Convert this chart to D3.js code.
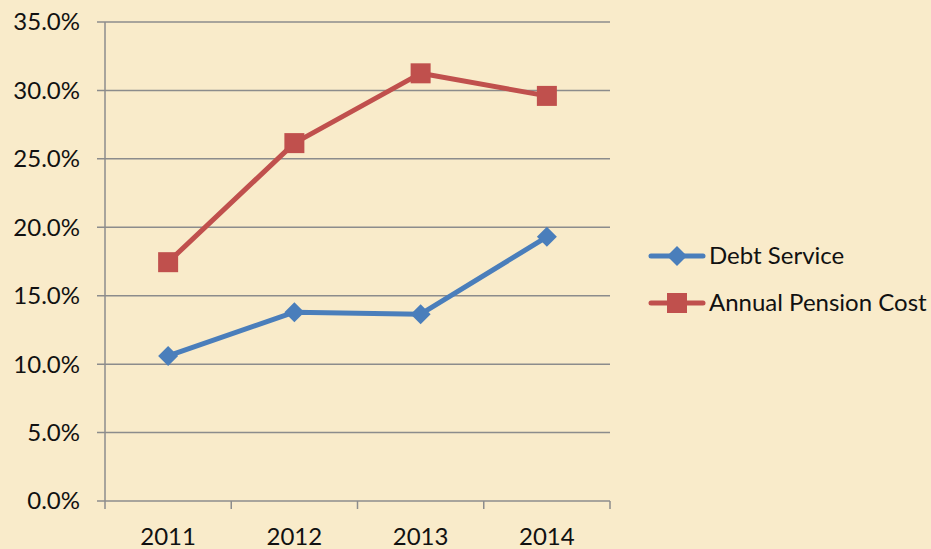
<!DOCTYPE html>
<html>
<head>
<meta charset="utf-8">
<script src="https://cdn.jsdelivr.net/npm/d3@7"></script>
<style>
  html, body { margin: 0; padding: 0; background: #f9ebca; }
  svg text { font-family: Lato, "Open Sans", sans-serif; fill: #111; }
</style>
</head>
<body>
<div id="chart"></div>
<script>
// chart values
const YEARS = ["2011", "2012", "2013", "2014"];
const DEBT_SERVICE = [10.6, 13.8, 13.65, 19.3];
const PENSION_COST = [17.45, 26.15, 31.25, 29.6];
const Y_TICKS = [0, 5, 10, 15, 20, 25, 30, 35];

const SERIES = [
  { name: "Debt Service", values: DEBT_SERVICE, color: "#4a7ebb", marker: "diamond" },
  { name: "Annual Pension Cost", values: PENSION_COST, color: "#c0504d", marker: "square" }
];

const width = 931, height = 549;
const margin = { left: 105, right: 321, top: 22, bottom: 48 };
const fontSize = 24;

const svg = d3.select("#chart").append("svg")
  .attr("width", width)
  .attr("height", height);

svg.append("rect")
  .attr("width", width).attr("height", height)
  .attr("fill", "#f9ebca");

const x = d3.scaleBand()
  .domain(YEARS)
  .range([margin.left, width - margin.right]);

const y = d3.scaleLinear()
  .domain([0, 35])
  .range([height - margin.bottom, margin.top]);

const gridColor = "#8c8c8c";

// ---- gridlines + y labels ----
const yAxis = svg.append("g");
yAxis.selectAll("line.grid")
  .data(Y_TICKS)
  .enter().append("line")
  .attr("x1", margin.left - 8)
  .attr("x2", width - margin.right)
  .attr("y1", d => y(d)).attr("y2", d => y(d))
  .attr("stroke", gridColor)
  .attr("stroke-width", 1.5);

yAxis.selectAll("text")
  .data(Y_TICKS)
  .enter().append("text")
  .attr("x", margin.left - 25)
  .attr("y", d => y(d))
  .attr("dy", "0.35em")
  .attr("text-anchor", "end")
  .attr("font-size", fontSize)
  .text(d => d.toFixed(1) + "%");

// y axis line
svg.append("line")
  .attr("x1", margin.left).attr("x2", margin.left)
  .attr("y1", y(35)).attr("y2", y(0))
  .attr("stroke", gridColor).attr("stroke-width", 1.5);

// ---- x axis ----
const xTicks = YEARS.map(d => x(d)).concat([x.range()[1]]);
svg.selectAll("line.xtick")
  .data(xTicks)
  .enter().append("line")
  .attr("x1", d => d).attr("x2", d => d)
  .attr("y1", y(0)).attr("y2", y(0) + 8)
  .attr("stroke", gridColor).attr("stroke-width", 1.5);

svg.selectAll("text.xlab")
  .data(YEARS)
  .enter().append("text")
  .attr("x", d => x(d) + x.bandwidth() / 2)
  .attr("y", y(0) + 36)
  .attr("dy", "0.35em")
  .attr("text-anchor", "middle")
  .attr("font-size", fontSize)
  .text(d => d);

// ---- series ----
const line = d3.line()
  .x((d, i) => x(YEARS[i]) + x.bandwidth() / 2)
  .y(d => y(d));

function drawMarker(g, kind, cx, cy, color) {
  if (kind === "square") {
    g.append("rect")
      .attr("x", cx - 10).attr("y", cy - 10)
      .attr("width", 20).attr("height", 20)
      .attr("fill", color);
  } else {
    g.append("path")
      .attr("d", `M${cx},${cy - 10}L${cx + 10},${cy}L${cx},${cy + 10}L${cx - 10},${cy}Z`)
      .attr("fill", color);
  }
}

SERIES.forEach(s => {
  const g = svg.append("g");
  g.append("path")
    .attr("d", line(s.values))
    .attr("fill", "none")
    .attr("stroke", s.color)
    .attr("stroke-width", 5)
    .attr("stroke-linejoin", "round")
    .attr("stroke-linecap", "round");
  s.values.forEach((v, i) => {
    drawMarker(g, s.marker, x(YEARS[i]) + x.bandwidth() / 2, y(v), s.color);
  });
});

// ---- legend ----
const legend = svg.append("g");
SERIES.forEach((s, i) => {
  const ly = 256 + i * 47;
  const g = legend.append("g");
  g.append("line")
    .attr("x1", 651).attr("x2", 703)
    .attr("y1", ly).attr("y2", ly)
    .attr("stroke", s.color).attr("stroke-width", 5)
    .attr("stroke-linecap", "round");
  drawMarker(g, s.marker, 677, ly, s.color);
  g.append("text")
    .attr("x", 709).attr("y", ly)
    .attr("dy", "0.35em")
    .attr("font-size", fontSize)
    .text(s.name);
});
</script>
</body>
</html>
